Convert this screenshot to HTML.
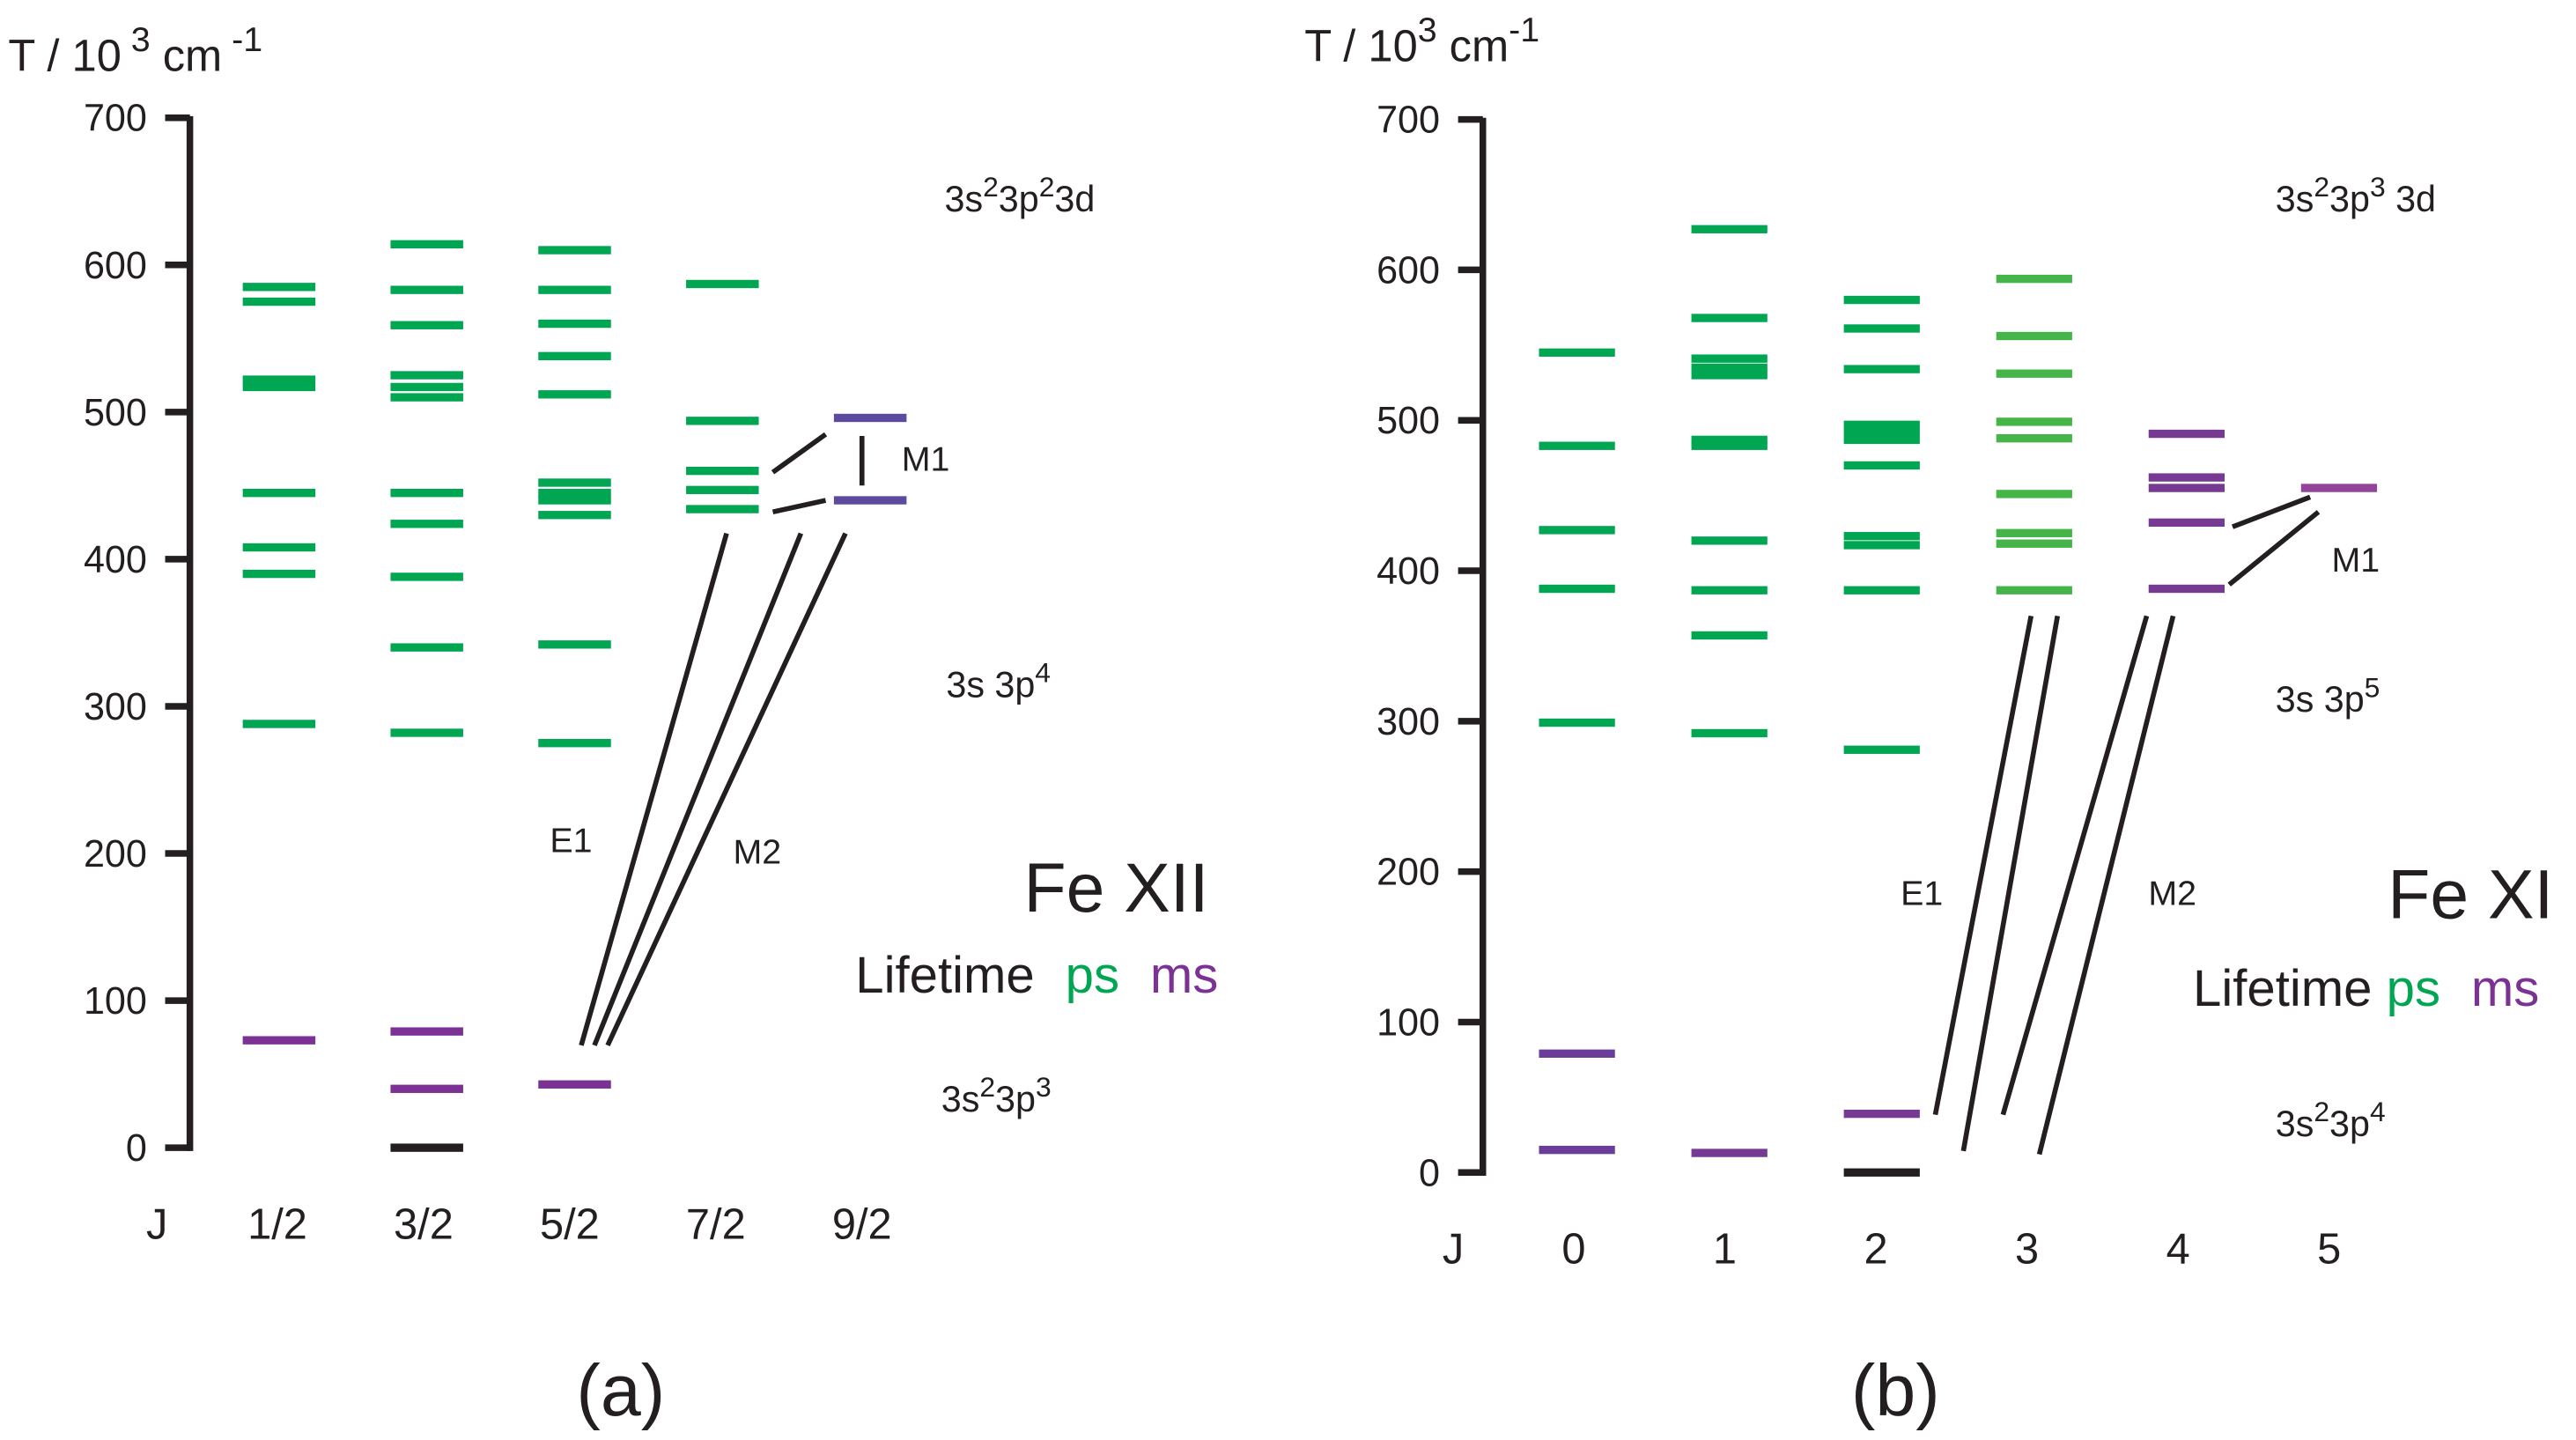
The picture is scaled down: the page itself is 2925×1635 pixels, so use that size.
<!DOCTYPE html>
<html><head><meta charset="utf-8">
<style>
html,body{margin:0;padding:0;background:#fff;}
svg{display:block;}
text{font-family:"Liberation Sans",sans-serif;fill:#231f20;}
</style></head>
<body>
<svg id="chart" width="2925" height="1635" viewBox="0 0 1560 872" xmlns="http://www.w3.org/2000/svg">
<g id="static" fill="#231f20">
<text x="5" y="43" font-size="27">T / 10<tspan dy="-12" font-size="21"> 3</tspan><tspan dy="12"> cm</tspan><tspan dy="-12" font-size="21"> -1</tspan></text>
<text x="790" y="37" font-size="27">T / 10<tspan dy="-12" font-size="21">3</tspan><tspan dy="12"> cm</tspan><tspan dy="-12" font-size="21">-1</tspan></text>
<text x="572" y="128" font-size="22">3s<tspan dy="-9" font-size="17">2</tspan><tspan dy="9">3p</tspan><tspan dy="-9" font-size="17">2</tspan><tspan dy="9">3d</tspan></text>
<text x="573" y="422" font-size="22">3s 3p<tspan dy="-9" font-size="17">4</tspan></text>
<text x="570" y="673" font-size="22">3s<tspan dy="-9" font-size="17">2</tspan><tspan dy="9">3p</tspan><tspan dy="-9" font-size="17">3</tspan></text>
<text x="620" y="552" font-size="42">Fe XII</text>
<text x="518" y="601" font-size="31">Lifetime <tspan style="fill:#00a651" dx="10">ps</tspan> <tspan style="fill:#7b3294" dx="10">ms</tspan></text>
<text x="333" y="516" font-size="21">E1</text>
<text x="444" y="523" font-size="21">M2</text>
<text x="546" y="285" font-size="21">M1</text>
<text x="349" y="857" font-size="44">(a)</text>

<text x="1378" y="128" font-size="22">3s<tspan dy="-9" font-size="17">2</tspan><tspan dy="9">3p</tspan><tspan dy="-9" font-size="17">3</tspan><tspan dy="9"> 3d</tspan></text>
<text x="1378" y="431" font-size="22">3s 3p<tspan dy="-9" font-size="17">5</tspan></text>
<text x="1378" y="688" font-size="22">3s<tspan dy="-9" font-size="17">2</tspan><tspan dy="9">3p</tspan><tspan dy="-9" font-size="17">4</tspan></text>
<text x="1446" y="556" font-size="42">Fe XI</text>
<text x="1328" y="609" font-size="31">Lifetime <tspan style="fill:#00a651">ps</tspan> <tspan style="fill:#7b3294" dx="10">ms</tspan></text>
<text x="1151" y="548" font-size="21">E1</text>
<text x="1301" y="548" font-size="21">M2</text>
<text x="1412" y="346" font-size="21">M1</text>
<text x="1121" y="857" font-size="44">(b)</text>

<g stroke="#231f20" stroke-width="3">
<line x1="468" y1="286" x2="500" y2="263"/>
<line x1="468" y1="310" x2="500" y2="303"/>
<line x1="522" y1="264" x2="522" y2="294"/>
<line x1="352" y1="633" x2="440" y2="323"/>
<line x1="360" y1="633" x2="485" y2="323"/>
<line x1="368" y1="633" x2="512" y2="323"/>
<line x1="1352" y1="319" x2="1399" y2="301"/>
<line x1="1350" y1="354" x2="1404" y2="310"/>
<line x1="1172" y1="675" x2="1230" y2="373"/>
<line x1="1189" y1="697" x2="1246" y2="373"/>
<line x1="1213" y1="675" x2="1300" y2="373"/>
<line x1="1235" y1="699" x2="1316" y2="373"/>
</g>
</g>
<g id="dyn"></g>
</svg>
<script>
// Panel (a) Fe XII: J columns
const jLabelsA = ["1/2","3/2","5/2","7/2","9/2"];
const greenA = [
  [585,575,522,517,445,408,390,288],
  [614,583,559,525,517,510,445,424,388,340,282],
  [610,583,560,538,512,452,445,440,430,342,275],
  [587,494,460,447,434],
  []
];
const purpleA = [[73],[79,40],[43],[],[496,440]];
const blackA = [[],[0],[],[],[]];
const ticksA = [0,100,200,300,400,500,600,700];

// Panel (b) Fe XI
const jLabelsB = ["0","1","2","3","4","5"];
const greenB = [
  [545,483,427,388,299],
  [627,568,541,535,530,487,483,420,387,357,292],
  [580,561,534,497,492,487,470,423,417,387,281],
  [594,556,531,499,488,451,425,418,387],
  [],
  []
];
const purpleB = [[79,15],[13],[39],[],[491,462,455,432,388],[455]];
const blackB = [[],[],[0],[],[],[]];
const ticksB = [0,100,200,300,400,500,600,700];

const NS="http://www.w3.org/2000/svg";
const dyn=document.getElementById('dyn');
function mk(tag,attrs){const e=document.createElementNS(NS,tag);for(const k in attrs)e.setAttribute(k,attrs[k]);dyn.appendChild(e);return e;}

function panel(cfg){
  const y=v=>cfg.y0 - v*cfg.k;
  const ax=mk('line',{x1:cfg.ax,y1:y(700)-1,x2:cfg.ax,y2:y(0)+2,stroke:'#231f20','stroke-width':4});
  
  
  cfg.ticks.forEach(t=>{
    const tl=mk('line',{x1:cfg.ax-15,y1:y(t),x2:cfg.ax,y2:y(t),stroke:'#231f20','stroke-width':4});
    
    
    const tx=mk('text',{x:cfg.ax-26,y:y(t)+8,'font-size':23,'text-anchor':'end'});
    tx.textContent=t;
    
    
  });
  const jt=mk('text',{x:cfg.jx,y:cfg.jy,'font-size':26,'text-anchor':'middle'});
  jt.textContent='J';
  
  
  cfg.labels.forEach((l,i)=>{
    const cx=cfg.c0+i*cfg.dc;
    const t=mk('text',{x:cfg.lx0+i*cfg.dl,y:cfg.jy,'font-size':26,'text-anchor':'middle'});
    t.textContent=l;
    
    
    const draw=(arr,color,kind)=>arr[i].forEach(v=>{
      const r=mk('rect',{x:cx-cfg.hw,y:y(v)-2.5,width:cfg.hw*2,height:5,fill:(typeof color==='function'?color(i):color)});
      
      
    });
    draw(cfg.green,cfg.gcol,'ps');
    draw(cfg.purple,cfg.pcol,'ms');
    draw(cfg.black,'#231f20','ground');
  });
}
panel({id:'a',ax:115,y0:695,k:0.891,ticks:ticksA,labels:jLabelsA,c0:169,dc:89.5,hw:22,
  lx0:168,dl:88.5,jx:95,jy:750,green:greenA,purple:purpleA,black:blackA,
  gcol:'#00a651',pcol:i=>i===4?'#5b4a9e':'#7b3294'});
panel({id:'b',ax:898,y0:710,k:0.911,ticks:ticksB,labels:jLabelsB,c0:955,dc:92.3,hw:23,
  lx0:953,dl:91.5,jx:880,jy:765,green:greenB,purple:purpleB,black:blackB,
  gcol:i=>i===3?'#45b549':'#00a651',pcol:i=>i===5?'#93449a':(i===0?'#6a3d9a':'#773a93')});
</script>
</body></html>
